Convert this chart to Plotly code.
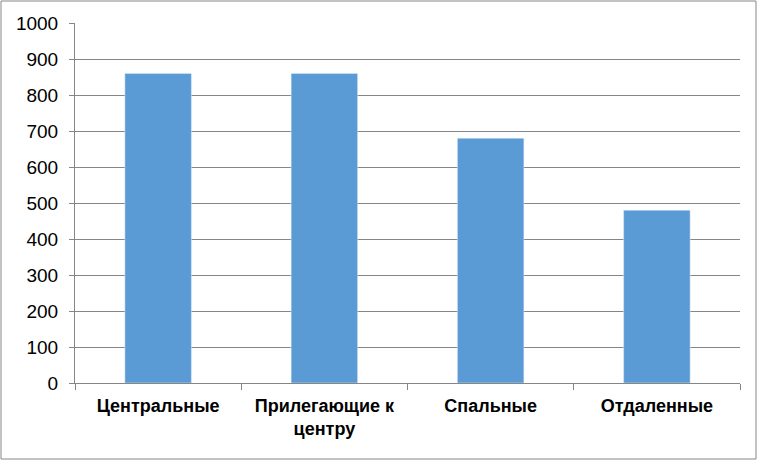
import plotly.graph_objects as go

categories = ["Центральные", "Прилегающие к<br>центру", "Спальные", "Отдаленные"]
values = [860, 860, 680, 480]
y_ticks = [0, 100, 200, 300, 400, 500, 600, 700, 800, 900, 1000]

fig = go.Figure(
    go.Bar(x=categories, y=values, marker_color="#5B9BD5", width=0.4)
)

fig.update_layout(
    width=758,
    height=461,
    margin=dict(l=75, r=18, t=23, b=78),
    paper_bgcolor="white",
    plot_bgcolor="white",
    showlegend=False,
    font=dict(family="Liberation Sans, Arial", color="black"),
    shapes=[
        # chart frame, as in the Excel chart
        dict(
            type="rect", xref="paper", yref="paper",
            x0=-74 / 665, x1=1 + 16 / 665, y0=-76 / 360, y1=1 + 22 / 360,
            line=dict(color="#868686", width=1),
        )
    ],
)
fig.update_xaxes(
    showline=True,
    linecolor="#868686",
    ticks="outside",
    tickson="boundaries",
    ticklen=6,
    tickcolor="#868686",
    tickfont=dict(size=18, color="black"),
    ticklabelstandoff=6,
    tickprefix="<b>",
    ticksuffix="</b>",
    showgrid=False,
)
fig.update_yaxes(
    range=[0, 1000],
    tickvals=y_ticks,
    showline=True,
    linecolor="#868686",
    ticks="outside",
    ticklen=5,
    tickcolor="#868686",
    gridcolor="#868686",
    tickfont=dict(size=19, color="black"),
    ticklabelstandoff=7,
    zeroline=False,
)

fig.write_html(
    "out.html",
    config={"displayModeBar": False},
    post_script="document.body.style.margin='0';",
)
